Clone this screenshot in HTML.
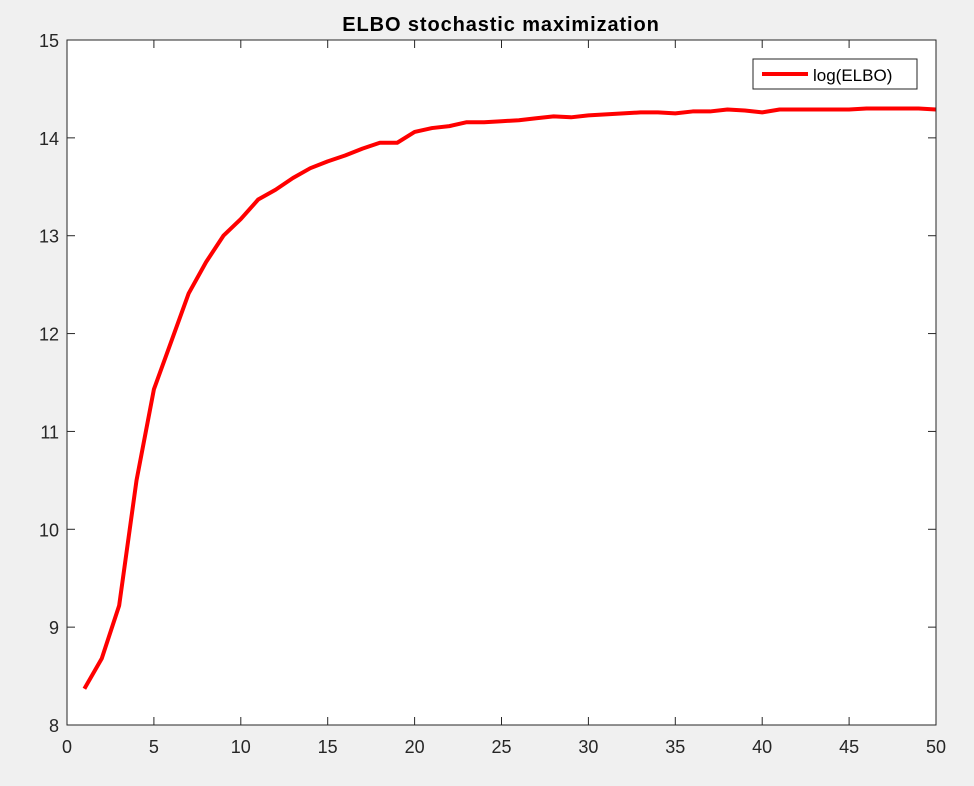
<!DOCTYPE html>
<html><head><meta charset="utf-8"><style>
html,body{margin:0;padding:0;background:#f0f0f0;}
svg{display:block;font-family:"Liberation Sans",Arial,sans-serif;}
</style></head><body>
<svg id="chart" width="974" height="786">
<rect x="0" y="0" width="974" height="786" fill="#f0f0f0"/>
<rect x="67" y="40" width="869" height="685" fill="#fff"/>
<g id="ticks"></g>
<polyline id="line" fill="none" stroke="#ff0000" stroke-width="4" stroke-linejoin="round"/>
<rect x="67" y="40" width="869" height="685" fill="none" stroke="#262626" stroke-width="1"/>
<text x="501" y="31" text-anchor="middle" font-size="20" font-weight="bold" letter-spacing="0.9" fill="#000">ELBO stochastic maximization</text>
<g>
<rect x="753" y="59" width="164" height="30" fill="#fff" stroke="#262626" stroke-width="1"/>
<line x1="762" y1="74" x2="808" y2="74" stroke="#ff0000" stroke-width="4"/>
<text x="813" y="81" font-size="17" fill="#000">log(ELBO)</text>
</g>
</svg>
<script>
const iterations=[];for(let i=1;i<=50;i++)iterations.push(i);
const elboValues=[8.37,8.68,9.22,10.50,11.43,11.92,12.41,12.73,13.00,13.17,13.37,13.47,13.59,13.69,13.76,13.82,13.89,13.95,13.95,14.06,14.10,14.12,14.16,14.16,14.17,14.18,14.20,14.22,14.21,14.23,14.24,14.25,14.26,14.26,14.25,14.27,14.27,14.29,14.28,14.26,14.29,14.29,14.29,14.29,14.29,14.30,14.30,14.30,14.30,14.29];
const xTicks=[0,5,10,15,20,25,30,35,40,45,50];
const yTicks=[8,9,10,11,12,13,14,15];
const L=67,R=936,T=40,B=725;
const xs=v=>L+(v-0)/50*(R-L);
const ys=v=>B-(v-8)/7*(B-T);
const ns='http://www.w3.org/2000/svg';
const g=document.getElementById('ticks');
function mk(tag,attrs){const e=document.createElementNS(ns,tag);for(const k in attrs)e.setAttribute(k,attrs[k]);g.appendChild(e);return e;}
xTicks.forEach(t=>{const x=xs(t);
 let l=mk('line',{x1:x,y1:B,x2:x,y2:B-8,stroke:'#262626'});
 
 
 let l2=mk('line',{x1:x,y1:T,x2:x,y2:T+8,stroke:'#262626'});
 
 
 let tx=mk('text',{x:x,y:B+28,'text-anchor':'middle','font-size':'18',fill:'#262626'});tx.textContent=t;
 
 
});
yTicks.forEach(t=>{const y=ys(t);
 let l=mk('line',{x1:L,y1:y,x2:L+8,y2:y,stroke:'#262626'});
 
 
 let l2=mk('line',{x1:R,y1:y,x2:R-8,y2:y,stroke:'#262626'});
 
 
 let tx=mk('text',{x:L-8,y:y+7,'text-anchor':'end','font-size':'18',fill:'#262626'});tx.textContent=t;
 
 
});
document.getElementById('line').setAttribute('points',iterations.map((x,i)=>xs(x)+','+ys(elboValues[i])).join(' '));
</script>
</body></html>
